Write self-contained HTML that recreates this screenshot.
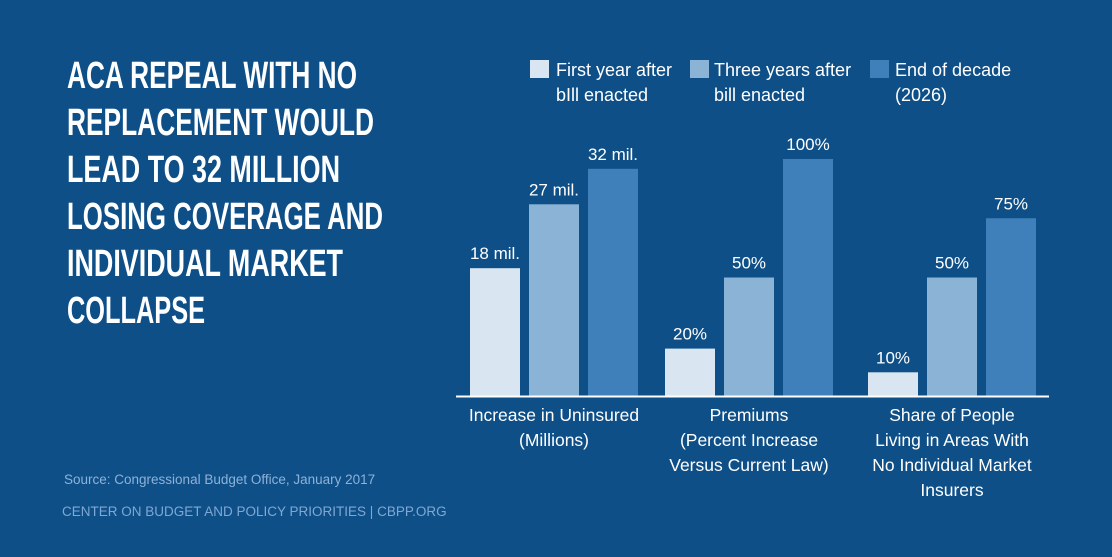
<!DOCTYPE html>
<html><head><meta charset="utf-8"><style>
html,body{margin:0;padding:0;background:#0e4f88;}
svg{display:block;font-family:"Liberation Sans",sans-serif;}
</style></head><body>
<svg id="chart" width="1112" height="557" viewBox="0 0 1112 557" xmlns="http://www.w3.org/2000/svg">
<rect x="0" y="0" width="1112" height="557" fill="#0e4f88"/>
<g fill="#ffffff" font-family="'Liberation Sans Narrow','Liberation Sans',sans-serif" font-weight="bold" font-size="38">
<text x="67" y="88" textLength="290" lengthAdjust="spacingAndGlyphs">ACA REPEAL WITH NO</text>
<text x="67" y="135" textLength="307" lengthAdjust="spacingAndGlyphs">REPLACEMENT WOULD</text>
<text x="67" y="182" textLength="273" lengthAdjust="spacingAndGlyphs">LEAD TO 32 MILLION</text>
<text x="67" y="229" textLength="316" lengthAdjust="spacingAndGlyphs">LOSING COVERAGE AND</text>
<text x="67" y="276" textLength="276" lengthAdjust="spacingAndGlyphs">INDIVIDUAL MARKET</text>
<text x="67" y="323" textLength="138" lengthAdjust="spacingAndGlyphs">COLLAPSE</text>
</g>
<g fill="#ffffff" font-size="18">
<rect x="530" y="60" width="19" height="18" fill="#d9e6f1"/>
<text x="556" y="76">First year after</text><text x="556" y="101">bIll enacted</text>
<rect x="690" y="60" width="19" height="18" fill="#8ab3d6"/>
<text x="714" y="76">Three years after</text><text x="714" y="101">bill enacted</text>
<rect x="870" y="60" width="19" height="18" fill="#3f80ba"/>
<text x="895" y="76">End of decade</text><text x="895" y="101">(2026)</text>
</g>
<g id="bars"></g>
<line x1="456" y1="396.5" x2="1049" y2="396.5" stroke="#ffffff" stroke-width="2"/>
<g id="cats" fill="#ffffff" font-size="17.5" text-anchor="middle"></g>
<text x="64" y="484" fill="#8db2d8" font-size="13.5">Source: Congressional Budget Office, January 2017</text>
<text x="62" y="516" fill="#7fa8d3" font-size="13.5">CENTER ON BUDGET AND POLICY PRIORITIES | CBPP.ORG</text>
</svg>
<script>
const categories = [["Increase in Uninsured","(Millions)"],["Premiums","(Percent Increase","Versus Current Law)"],["Share of People","Living in Areas With","No Individual Market","Insurers"]];
const firstYear = [18, 20, 10];
const threeYears = [27, 50, 50];
const endDecade = [32, 100, 75];
const valueLabels = [["18 mil.","27 mil.","32 mil."],["20%","50%","100%"],["10%","50%","75%"]];
const units = ["mil","pct","pct"];
const colors = ["#d9e6f1","#8ab3d6","#3f80ba"];
const NS = "http://www.w3.org/2000/svg";
const base = 396;
const groupLeft = [470, 665, 868];
function yScale(v, unit){ return base - v * (unit === "mil" ? 7.1 : 2.37); }
function groupX(i){ return groupLeft[i]; }
const bars = document.getElementById('bars');
const cats = document.getElementById('cats');
const series = [firstYear, threeYears, endDecade];
const sNames = ["first-year","three-years","end-of-decade"];
categories.forEach((lines, i) => {
  series.forEach((s, j) => {
    const x = groupX(i) + j * 59;
    const y = yScale(s[i], units[i]);
    const r = document.createElementNS(NS, 'rect');
    
    
    r.setAttribute('x', x); r.setAttribute('y', y);
    r.setAttribute('width', 50); r.setAttribute('height', base - y);
    r.setAttribute('fill', colors[j]);
    bars.appendChild(r);
    const t = document.createElementNS(NS, 'text');
    
    
    t.setAttribute('x', x + 25); t.setAttribute('y', y - 9);
    t.setAttribute('text-anchor', 'middle'); t.setAttribute('fill', '#ffffff');
    t.setAttribute('font-size', '17');
    t.textContent = valueLabels[i][j];
    bars.appendChild(t);
  });
  lines.forEach((ln, k) => {
    const t = document.createElementNS(NS, 'text');
    
    
    t.setAttribute('x', groupX(i) + 84); t.setAttribute('y', 421 + k * 25);
    t.textContent = ln;
    cats.appendChild(t);
  });
});
</script>
</body></html>
